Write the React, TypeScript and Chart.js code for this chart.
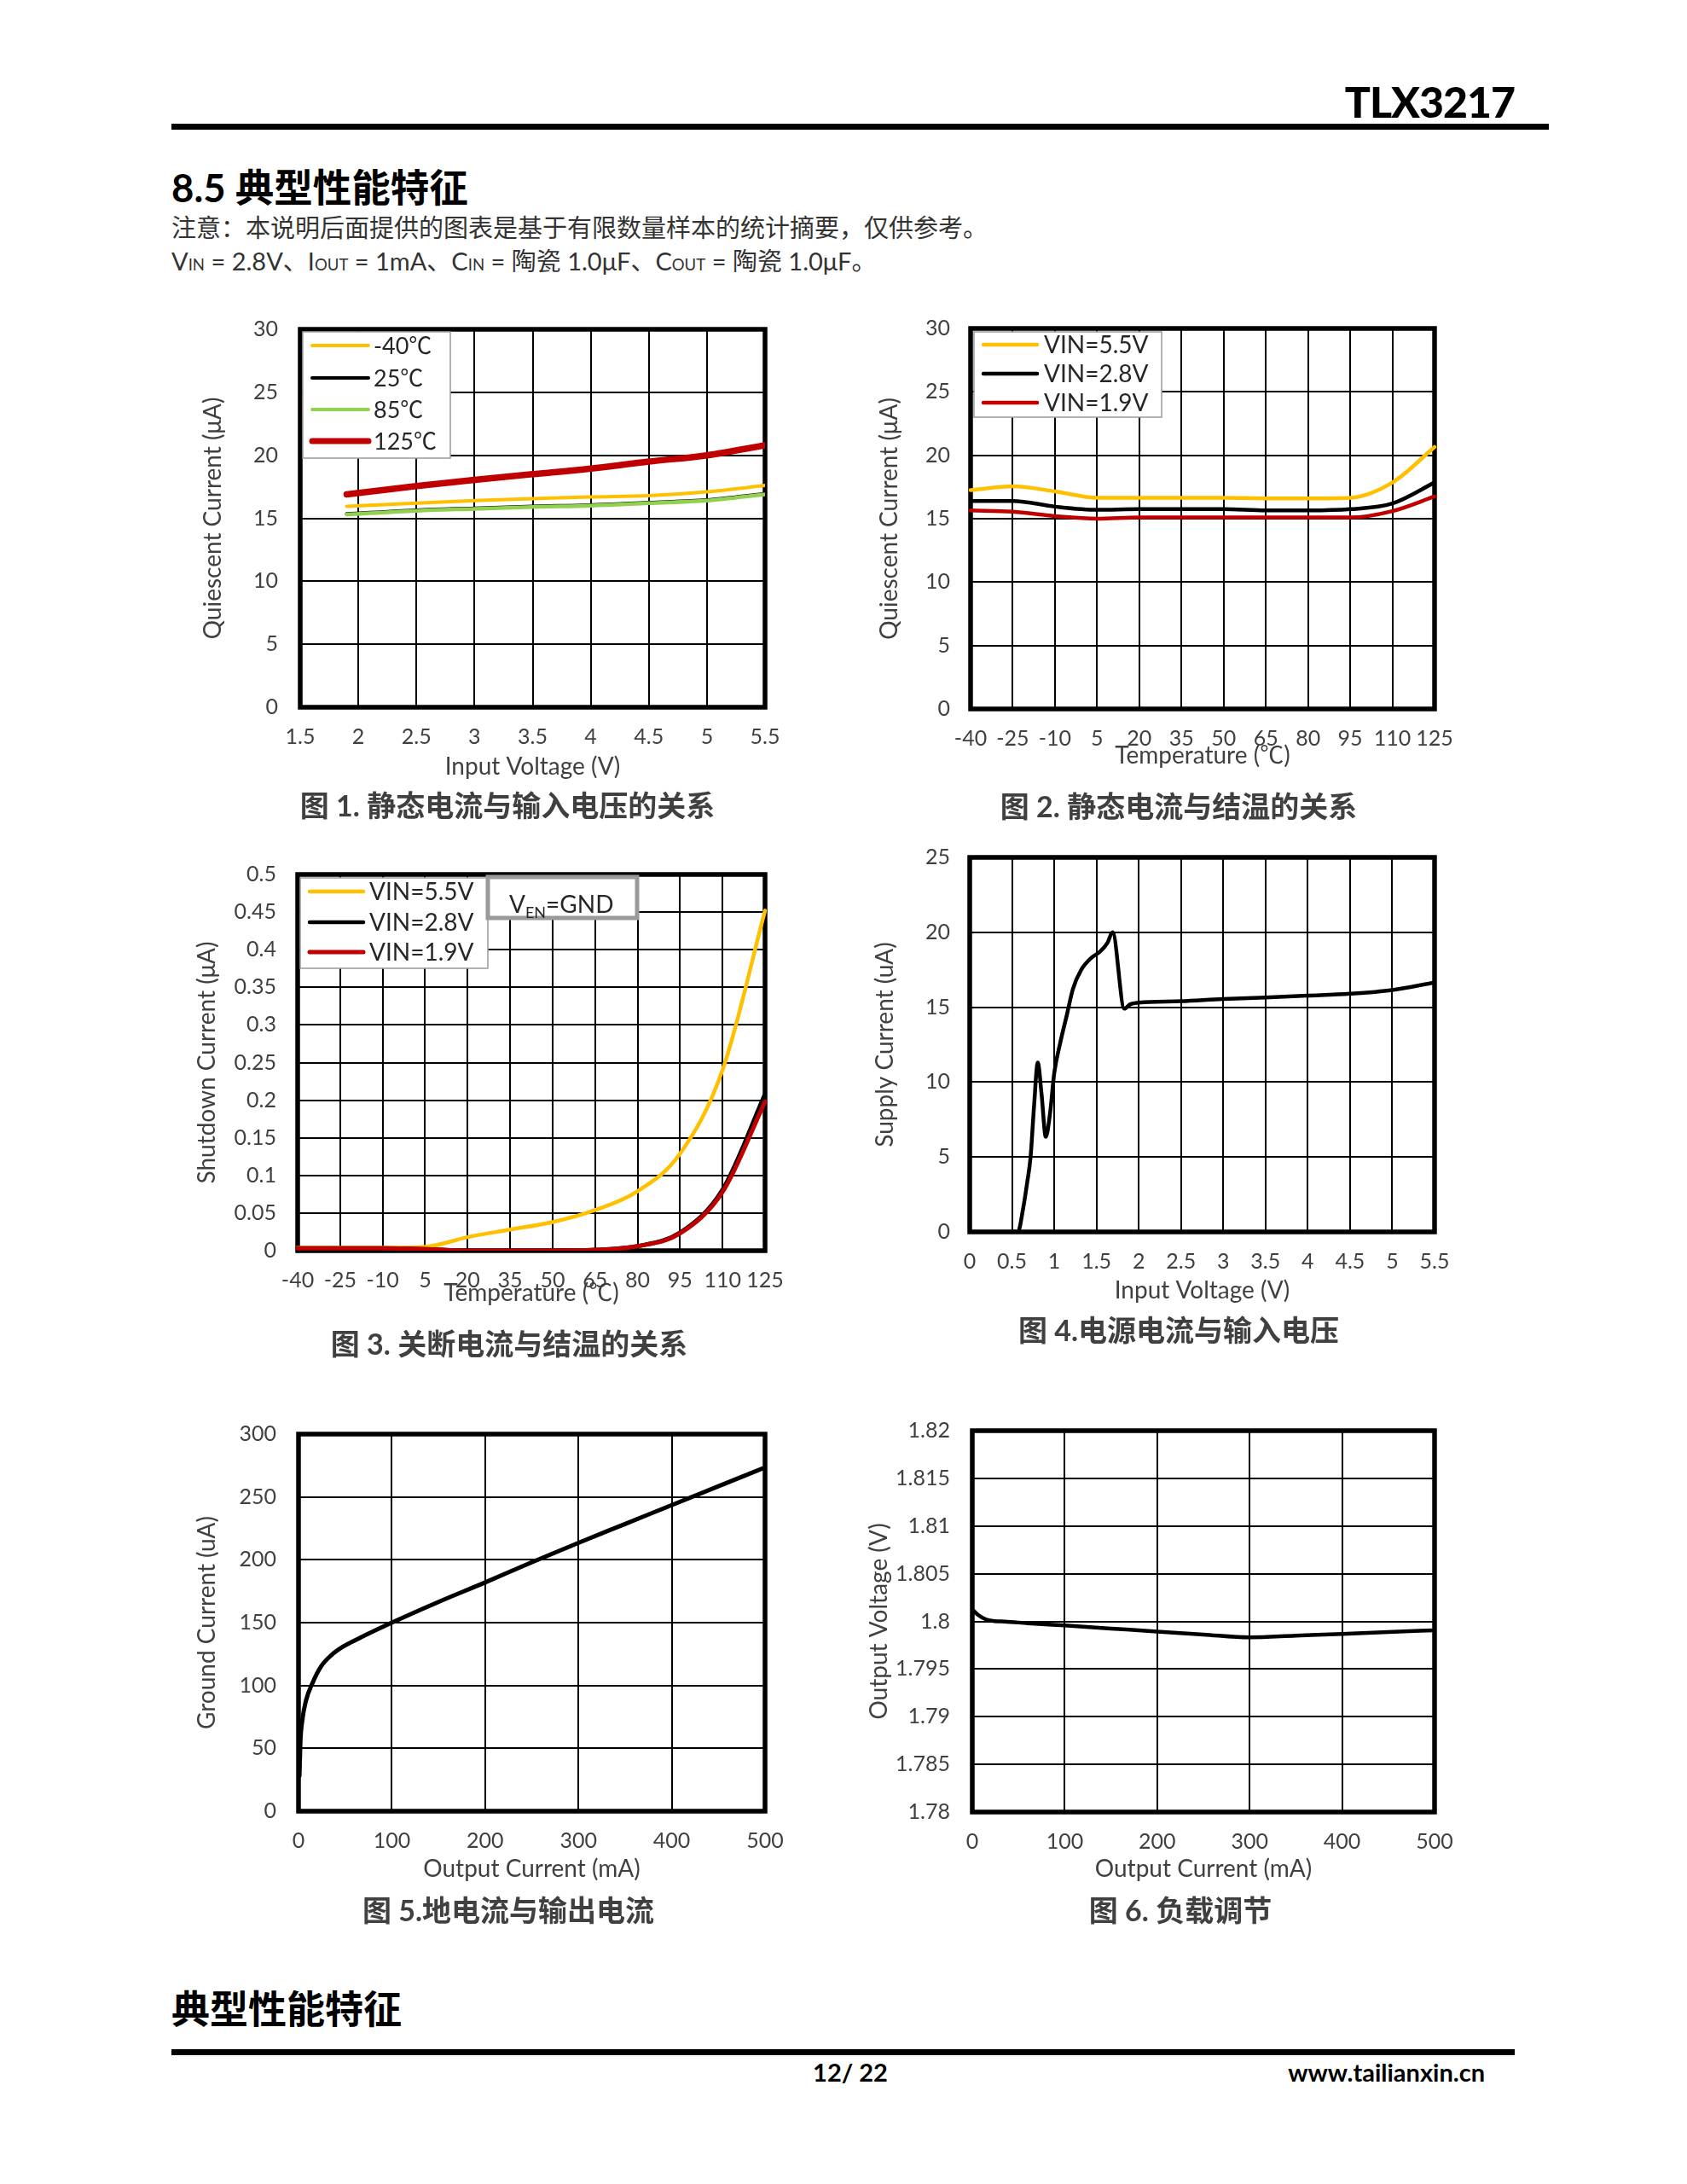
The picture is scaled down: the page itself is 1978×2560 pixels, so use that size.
import React, { useEffect, useRef } from "react";
import { Chart, registerables } from "chart.js";

Chart.register(...registerables);

const FONT = 'Lato, "Noto Sans CJK SC", "DejaVu Sans", sans-serif';

// ---------- Figure 1: quiescent current vs input voltage ----------
const fig1Vin = [1.9, 2.5, 3.0, 3.5, 4.0, 4.5, 5.0, 5.5];
const fig1Tm40 = [15.95, 16.2, 16.4, 16.55, 16.7, 16.8, 17.1, 17.6];
const fig1T25 = [15.35, 15.65, 15.8, 15.95, 16.05, 16.25, 16.45, 16.95];
const fig1T85 = [15.3, 15.6, 15.75, 15.9, 16.0, 16.2, 16.4, 16.9];
const fig1T125 = [16.9, 17.55, 18.05, 18.5, 18.95, 19.5, 20.0, 20.8];

// ---------- Figure 2: quiescent current vs temperature ----------
const tempLabels = ["-40", "-25", "-10", "5", "20", "35", "50", "65", "80", "95", "110", "125"];
const fig2V55 = [17.25, 17.55, 17.15, 16.65, 16.65, 16.65, 16.65, 16.6, 16.6, 16.65, 17.85, 20.65];
const fig2V28 = [16.4, 16.4, 15.95, 15.7, 15.75, 15.75, 15.75, 15.65, 15.65, 15.75, 16.2, 17.85];
const fig2V19 = [15.65, 15.55, 15.2, 15.0, 15.1, 15.1, 15.1, 15.1, 15.1, 15.1, 15.6, 16.75];

// ---------- Figure 3: shutdown current vs temperature ----------
const fig3V55 = [0.004, 0.004, 0.004, 0.005, 0.018, 0.028, 0.038, 0.054, 0.079, 0.129, 0.24, 0.452];
const fig3V28 = [0.003, 0.003, 0.003, 0.002, 0.0, 0.0, 0.0, 0.001, 0.006, 0.024, 0.081, 0.208];
const fig3V19 = [0.003, 0.003, 0.003, 0.002, 0.0, 0.0, 0.0, 0.001, 0.006, 0.023, 0.078, 0.198];

// ---------- Figure 4: supply current vs input voltage ----------
const fig4Vin = [0, 0.57, 0.63, 0.68, 0.72, 0.76, 0.805, 0.85, 0.9, 0.95, 1.0, 1.07, 1.15, 1.22, 1.32, 1.44, 1.54, 1.63, 1.69, 1.83, 1.9, 2.0, 2.5, 3.0, 3.5, 4.0, 4.5, 5.0, 5.5];
const fig4Isup = [0, 0, 1.5, 3.3, 5.0, 8.3, 11.3, 9.2, 6.35, 7.9, 10.6, 12.6, 14.5, 16.2, 17.5, 18.3, 18.7, 19.3, 20.0, 14.9, 15.2, 15.3, 15.4, 15.55, 15.65, 15.77, 15.9, 16.15, 16.65];

// ---------- Figure 5: ground current vs output current ----------
const fig5Iout = [1, 2, 4, 8, 15, 24, 35, 48, 66, 100, 150, 200, 250, 300, 350, 400, 450, 500];
const fig5Ignd = [28, 55, 72, 88, 102, 115, 124, 131, 138, 150, 166.5, 182, 198, 213.5, 228.5, 243.5, 258.5, 273.5];

// ---------- Figure 6: load regulation ----------
const fig6Iout = [0, 6, 15, 24, 35, 60, 100, 150, 200, 250, 300, 350, 400, 450, 500];
const fig6Vout = [1.80125, 1.8007, 1.8002, 1.80002, 1.79998, 1.7998, 1.79957, 1.79925, 1.79893, 1.79862, 1.79832, 1.7985, 1.79868, 1.79888, 1.79907];

const ORANGE = "#FFC000";
const BLACK = "#000000";
const GREEN = "#92D050";
const RED = "#C00000";

const fmt = (v: any) => String(Math.round(Number(v) * 10000) / 10000);

const framePlugin = {
  id: "frame",
  beforeDatasetsDraw(chart: any) {
    const { ctx, chartArea: a } = chart;
    ctx.save();
    ctx.strokeStyle = "#000";
    ctx.lineWidth = 5.5;
    ctx.strokeRect(a.left, a.top, a.right - a.left, a.bottom - a.top);
    ctx.restore();
  },
};

const boxLegendPlugin = {
  id: "boxLegend",
  afterDatasetsDraw(chart: any, _args: any, o: any) {
    if (!o || !o.rows) return;
    const { ctx, chartArea: a } = chart;
    ctx.save();
    ctx.fillStyle = "#fff";
    ctx.strokeStyle = "#9a9a9a";
    ctx.lineWidth = 1.5;
    ctx.fillRect(a.left + o.x, a.top + o.y, o.w, o.h);
    ctx.strokeRect(a.left + o.x, a.top + o.y, o.w, o.h);
    chart.data.datasets.forEach((ds: any, i: number) => {
      const ry = a.top + o.rows[i];
      ctx.beginPath();
      ctx.strokeStyle = ds.borderColor;
      ctx.lineWidth = o.widths[i];
      ctx.lineCap = "round";
      ctx.moveTo(a.left + o.lx0, ry);
      ctx.lineTo(a.left + o.lx1, ry);
      ctx.stroke();
      ctx.fillStyle = "#262626";
      ctx.font = `${o.size}px ${FONT}`;
      ctx.textBaseline = "middle";
      ctx.textAlign = "left";
      ctx.fillText(ds.label, a.left + o.tx, ry + 1);
    });
    if (o.note) {
      const n = o.note;
      ctx.fillStyle = "#fff";
      ctx.strokeStyle = "#9a9a9a";
      ctx.fillRect(a.left + n.x, a.top + n.y, n.w, n.h);
      ctx.strokeRect(a.left + n.x, a.top + n.y, n.w, n.h);
      ctx.fillStyle = "#262626";
      ctx.textBaseline = "alphabetic";
      let x = a.left + n.tx;
      const y = a.top + n.ty;
      ctx.font = `${n.size}px ${FONT}`;
      ctx.fillText(n.main, x, y);
      x += ctx.measureText(n.main).width;
      ctx.font = `${Math.round(n.size * 0.64)}px ${FONT}`;
      ctx.fillText(n.sub, x, y + 6);
      x += ctx.measureText(n.sub).width;
      ctx.font = `${n.size}px ${FONT}`;
      ctx.fillText(n.rest, x, y);
    }
    ctx.restore();
  },
};

type DS = { label: string; color: string; width: number; ys: number[]; xs?: number[]; order: number };
type Spec = {
  L: number; T: number; R: number; B: number;
  labels?: string[];
  xMin?: number; xMax?: number; xStep?: number;
  yMin: number; yMax: number; yStep: number;
  xTitle: string; yTitle: string;
  xTitleOff: number; yTitleX: number; yLabelGap: number;
  datasets: DS[];
  legend?: any;
};

const YW = 160;
const PT = 60;
const PR = 50;
const XH = 110;
const TICK = 25;
const TITLE = 28;

function buildConfig(s: Spec): any {
  const isCat = !!s.labels;
  const xTitle = {
    display: true,
    text: s.xTitle,
    font: { family: FONT, size: TITLE },
    color: "#404040",
    padding: { top: 0, bottom: XH - s.xTitleOff - TITLE * 0.6 },
  };
  const xTicks = { font: { family: FONT, size: TICK }, color: "#404040", padding: 20, maxRotation: 0, autoSkip: false };
  return {
    type: "line",
    data: {
      labels: s.labels,
      datasets: s.datasets.map((d) => ({
        label: d.label,
        data: d.xs ? d.xs.map((x, i) => ({ x, y: d.ys[i] })) : d.ys,
        borderColor: d.color,
        backgroundColor: d.color,
        borderWidth: d.width,
        pointRadius: 0,
        fill: false,
        cubicInterpolationMode: "monotone",
        borderCapStyle: "round",
        borderJoinStyle: "round",
        order: d.order,
      })),
    },
    options: {
      animation: false,
      responsive: false,
      events: [],
      layout: { padding: { top: PT, right: PR, left: 0, bottom: 0 } },
      plugins: {
        legend: { display: false },
        tooltip: { enabled: false },
        boxLegend: s.legend || false,
      },
      scales: {
        x: isCat
          ? {
              type: "category",
              offset: false,
              ticks: xTicks,
              grid: { color: "#000", lineWidth: 2, drawTicks: false, offset: false },
              border: { display: false },
              title: xTitle,
              afterFit: (sc: any) => { sc.height = XH; },
            }
          : {
              type: "linear",
              min: s.xMin,
              max: s.xMax,
              ticks: { ...xTicks, stepSize: s.xStep, callback: fmt },
              grid: { color: "#000", lineWidth: 2, drawTicks: false },
              border: { display: false },
              title: xTitle,
              afterFit: (sc: any) => { sc.height = XH; },
            },
        y: {
          type: "linear",
          min: s.yMin,
          max: s.yMax,
          ticks: { stepSize: s.yStep, callback: fmt, font: { family: FONT, size: TICK }, color: "#404040", padding: s.yLabelGap },
          grid: { color: "#000", lineWidth: 2, drawTicks: false },
          border: { display: false },
          title: {
            display: true,
            text: s.yTitle,
            font: { family: FONT, size: TITLE },
            color: "#404040",
            padding: { top: YW - (s.L - s.yTitleX) - TITLE * 0.6, bottom: 0 },
          },
          afterFit: (sc: any) => { sc.width = YW; },
        },
      },
    },
    plugins: [framePlugin, boxLegendPlugin],
  };
}

function ChartBox({ spec }: { spec: Spec }) {
  const ref = useRef<HTMLCanvasElement>(null);
  const w = spec.R - spec.L + YW + PR;
  const h = spec.B - spec.T + PT + XH;
  useEffect(() => {
    const c = new Chart(ref.current as HTMLCanvasElement, buildConfig(spec));
    return () => c.destroy();
  }, []);
  return (
    <canvas
      ref={ref}
      width={w}
      height={h}
      style={{ position: "absolute", left: spec.L - YW, top: spec.T - PT, width: w, height: h }}
    />
  );
}

const specs: Spec[] = [
  {
    L: 352, T: 386, R: 897, B: 829,
    xMin: 1.5, xMax: 5.5, xStep: 0.5, yMin: 0, yMax: 30, yStep: 5,
    xTitle: "Input Voltage (V)", yTitle: "Quiescent Current (μA)",
    xTitleOff: 70, yTitleX: 250, yLabelGap: 26,
    datasets: [
      { label: "-40℃", color: ORANGE, width: 4, xs: fig1Vin, ys: fig1Tm40, order: 3 },
      { label: "25℃", color: BLACK, width: 4, xs: fig1Vin, ys: fig1T25, order: 2 },
      { label: "85℃", color: GREEN, width: 4.5, xs: fig1Vin, ys: fig1T85, order: 1 },
      { label: "125℃", color: RED, width: 7.5, xs: fig1Vin, ys: fig1T125, order: 0 },
    ],
    legend: { x: 3, y: 3, w: 173, h: 148, rows: [19, 57, 94, 131], lx0: 14, lx1: 80, tx: 86, size: 27, widths: [4, 4, 4, 7] },
  },
  {
    L: 1138, T: 385, R: 1682, B: 831,
    labels: tempLabels, yMin: 0, yMax: 30, yStep: 5,
    xTitle: "Temperature (℃)", yTitle: "Quiescent Current (μA)",
    xTitleOff: 55, yTitleX: 1043, yLabelGap: 24,
    datasets: [
      { label: "VIN=5.5V", color: ORANGE, width: 4.5, ys: fig2V55, order: 2 },
      { label: "VIN=2.8V", color: BLACK, width: 4.5, ys: fig2V28, order: 1 },
      { label: "VIN=1.9V", color: RED, width: 4.5, ys: fig2V19, order: 0 },
    ],
    legend: { x: 4, y: 4, w: 220, h: 100, rows: [19, 53, 87], lx0: 15, lx1: 78, tx: 86, size: 28, widths: [4.5, 4.5, 4.5] },
  },
  {
    L: 349, T: 1025, R: 897, B: 1466,
    labels: tempLabels, yMin: 0, yMax: 0.5, yStep: 0.05,
    xTitle: "Temperature (℃)", yTitle: "Shutdown Current (μA)",
    xTitleOff: 50, yTitleX: 243, yLabelGap: 25,
    datasets: [
      { label: "VIN=5.5V", color: ORANGE, width: 4.5, ys: fig3V55, order: 2 },
      { label: "VIN=2.8V", color: BLACK, width: 5, ys: fig3V28, order: 1 },
      { label: "VIN=1.9V", color: RED, width: 5, ys: fig3V19, order: 0 },
    ],
    legend: {
      x: 3, y: 4, w: 220, h: 106, rows: [20, 56, 91], lx0: 14, lx1: 77, tx: 84, size: 28, widths: [4.5, 4.5, 5],
      note: { x: 223, y: 3, w: 175, h: 48, tx: 248, ty: 45, size: 28, main: "V", sub: "EN", rest: "=GND" },
    },
  },
  {
    L: 1137, T: 1005, R: 1682, B: 1444,
    xMin: 0, xMax: 5.5, xStep: 0.5, yMin: 0, yMax: 25, yStep: 5,
    xTitle: "Input Voltage (V)", yTitle: "Supply Current (uA)",
    xTitleOff: 69, yTitleX: 1038, yLabelGap: 23,
    datasets: [{ label: "Supply", color: BLACK, width: 4.5, xs: fig4Vin, ys: fig4Isup, order: 0 }],
  },
  {
    L: 350, T: 1681, R: 897, B: 2123,
    xMin: 0, xMax: 500, xStep: 100, yMin: 0, yMax: 300, yStep: 50,
    xTitle: "Output Current (mA)", yTitle: "Ground Current (uA)",
    xTitleOff: 68, yTitleX: 243, yLabelGap: 26,
    datasets: [{ label: "Ground", color: BLACK, width: 5, xs: fig5Iout, ys: fig5Ignd, order: 0 }],
  },
  {
    L: 1140, T: 1677, R: 1682, B: 2124,
    xMin: 0, xMax: 500, xStep: 100, yMin: 1.78, yMax: 1.82, yStep: 0.005,
    xTitle: "Output Current (mA)", yTitle: "Output Voltage (V)",
    xTitleOff: 67, yTitleX: 1031, yLabelGap: 26,
    datasets: [{ label: "Vout", color: BLACK, width: 4.5, xs: fig6Iout, ys: fig6Vout, order: 0 }],
  },
];

const captions = [
  { x: 595, y: 944, num: "1.", text: " 静态电流与输入电压的关系" },
  { x: 1382, y: 945, num: "2.", text: " 静态电流与结温的关系" },
  { x: 597, y: 1575, num: "3.", text: " 关断电流与结温的关系" },
  { x: 1382, y: 1559, num: "4.", text: "电源电流与输入电压" },
  { x: 596, y: 2239, num: "5.", text: "地电流与输出电流" },
  { x: 1384, y: 2239, num: "6.", text: " 负载调节" },
];

const abs = (x: number, y: number, tx: string, extra: any = {}) => ({
  position: "absolute" as const,
  left: x,
  top: y,
  transform: tx,
  whiteSpace: "nowrap" as const,
  lineHeight: 1,
  fontFamily: FONT,
  margin: 0,
  ...extra,
});

const sub = { fontSize: "0.64em" };

export default function App() {
  return (
    <div>
      <div style={abs(1776, 119, "translate(-100%, -50%)", { fontSize: 50, fontWeight: 900, color: "#000", letterSpacing: -1 })}>TLX3217</div>
      <div style={{ position: "absolute", left: 201, top: 145, width: 1615, height: 7, background: "#000" }} />
      <div style={abs(201, 220, "translateY(-50%)", { fontSize: 45.5, fontWeight: 700, color: "#000" })}>8.5 典型性能特征</div>
      <div style={abs(201, 266, "translateY(-50%)", { fontSize: 29, color: "#333" })}>
        注意：本说明后面提供的图表是基于有限数量样本的统计摘要，仅供参考。
      </div>
      <div style={abs(201, 305, "translateY(-50%)", { fontSize: 29, color: "#333" })}>
        V<span style={sub}>IN</span> = 2.8V、I<span style={sub}>OUT</span> = 1mA、C<span style={sub}>IN</span> = 陶瓷 1.0μF、C
        <span style={sub}>OUT</span> = 陶瓷 1.0μF。
      </div>

      {specs.map((s, i) => (
        <ChartBox key={i} spec={s} />
      ))}

      {captions.map((c, i) => (
        <div key={i} style={abs(c.x, c.y, "translate(-50%, -50%)", { fontSize: 34, fontWeight: 700, color: "#404040" })}>
          图 {c.num}
          {c.text}
        </div>
      ))}

      <div style={abs(201, 2355, "translateY(-50%)", { fontSize: 45, fontWeight: 700, color: "#000" })}>典型性能特征</div>
      <div style={{ position: "absolute", left: 201, top: 2402, width: 1575, height: 7, background: "#000" }} />
      <div style={abs(997, 2428, "translate(-50%, -50%)", { fontSize: 29, fontWeight: 700, color: "#000" })}>12/ 22</div>
      <div style={abs(1741, 2428, "translate(-100%, -50%)", { fontSize: 29, fontWeight: 700, color: "#000" })}>www.tailianxin.cn</div>
    </div>
  );
}
